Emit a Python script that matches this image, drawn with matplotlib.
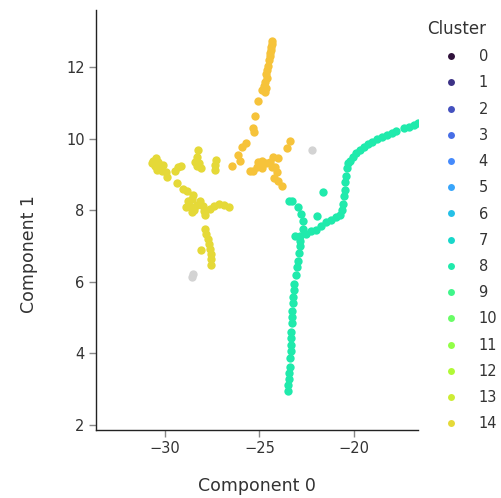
import numpy as np
import matplotlib
matplotlib.use("Agg")
import matplotlib.pyplot as plt
from matplotlib.lines import Line2D

plt.rcParams['font.family'] = ['DejaVu Sans']

# Embedding coordinates per cluster (component 0, component 1)
cluster8_x = [-23.50, -23.50, -23.44, -23.44, -23.39, -23.39, -23.34, -23.34, -23.34, -23.34,
              -23.28, -23.28, -23.26, -23.23, -23.23, -23.18, -23.18, -23.07, -23.02, -22.97,
              -22.92, -22.86, -22.86, -22.86, -23.12, -22.70, -22.70, -22.81, -22.97, -23.28,
              -23.44, -22.55, -22.28, -22.02, -21.76, -21.49, -21.23, -20.97, -20.75, -20.65,
              -20.60, -20.54, -20.49, -20.49, -20.44, -20.38, -20.33, -20.23, -20.07, -19.91,
              -19.70, -19.49, -19.28, -19.06, -18.80, -18.54, -18.27, -18.01, -17.80, -17.38,
              -17.11, -16.85, -16.64, -21.65, -21.97]
cluster8_y = [2.95, 3.12, 3.29, 3.46, 3.62, 3.88, 4.07, 4.24, 4.44, 4.61,
              4.86, 5.03, 5.19, 5.42, 5.59, 5.78, 5.95, 6.20, 6.43, 6.59,
              6.82, 7.01, 7.15, 7.27, 7.29, 7.49, 7.71, 7.91, 8.08, 8.25,
              8.27, 7.35, 7.41, 7.46, 7.55, 7.66, 7.74, 7.80, 7.88, 8.02,
              8.19, 8.39, 8.58, 8.78, 8.97, 9.17, 9.31, 9.39, 9.48, 9.59,
              9.68, 9.76, 9.84, 9.90, 9.98, 10.04, 10.10, 10.15, 10.21, 10.29,
              10.32, 10.38, 10.43, 8.50, 7.85]

cluster14_x = [-30.62, -30.46, -30.35, -30.51, -30.25, -30.09, -30.41, -30.14, -29.93, -29.88,
               -30.67, -29.46, -29.30, -29.14, -28.24, -28.30, -28.40, -28.30, -28.08, -28.19,
               -27.29, -27.35, -27.35, -29.35, -29.04, -28.83, -28.51, -28.77, -28.56, -28.67,
               -28.88, -28.46, -28.56, -28.30, -28.14, -27.98, -27.93, -27.87, -27.61, -27.40,
               -27.14, -26.87, -26.61, -27.87, -27.82, -27.72, -27.66, -27.61, -27.56, -27.56,
               -27.56, -28.08]
cluster14_y = [9.39, 9.45, 9.34, 9.25, 9.23, 9.28, 9.14, 9.11, 9.06, 8.92,
               9.31, 9.11, 9.20, 9.25, 9.68, 9.48, 9.34, 9.23, 9.17, 9.31,
               9.42, 9.28, 9.14, 8.75, 8.61, 8.53, 8.44, 8.27, 8.33, 8.13,
               8.08, 8.02, 7.94, 8.16, 8.25, 8.13, 7.99, 7.88, 8.05, 8.11,
               8.19, 8.16, 8.08, 7.49, 7.35, 7.21, 7.07, 6.93, 6.79, 6.65,
               6.48, 6.90]

cluster15_x = [-24.34, -24.34, -24.39, -24.39, -24.45, -24.45, -24.50, -24.55, -24.60, -24.66,
               -24.60, -24.71, -24.76, -24.66, -24.87, -24.71, -25.08, -25.24, -25.34, -25.29,
               -25.71, -25.92, -26.13, -26.03, -26.45, -25.50, -25.34, -25.13, -25.08, -24.87,
               -24.87, -24.66, -24.45, -24.29, -24.02, -24.34, -24.18, -24.07, -24.23, -24.02,
               -23.81, -23.55, -23.39]
cluster15_y = [12.73, 12.64, 12.56, 12.48, 12.39, 12.31, 12.20, 12.03, 11.92, 11.80,
               11.69, 11.58, 11.47, 11.41, 11.36, 11.30, 11.05, 10.63, 10.29, 10.18,
               9.87, 9.76, 9.54, 9.39, 9.25, 9.11, 9.11, 9.20, 9.34, 9.39,
               9.17, 9.31, 9.34, 9.48, 9.45, 9.20, 9.20, 9.06, 8.89, 8.83,
               8.69, 9.73, 9.93]

noise_x = [-28.49, -28.56, -22.25]
noise_y = [6.22, 6.15, 9.69]

legend_clusters = list(range(15))
n_clusters = 24

x_ticks = [-30, -25, -20]
y_ticks = [2, 4, 6, 8, 10, 12]


def cluster_color(k):
    return plt.get_cmap('turbo')(k / (n_clusters - 1))


fig = plt.figure(figsize=(5.01, 4.98), dpi=100)
ax = fig.add_axes([0.191, 0.1365, 0.643, 0.8435])

size = 36
ax.scatter(noise_x, noise_y, s=size, color='#d3d3d3', linewidths=0)
ax.scatter(cluster8_x, cluster8_y, s=size, color=cluster_color(8), linewidths=0)
ax.scatter(cluster14_x, cluster14_y, s=size, color=cluster_color(14), linewidths=0)
ax.scatter(cluster15_x, cluster15_y, s=size, color=cluster_color(15), linewidths=0)

ax.set_xlim(-33.64, -16.64)
ax.set_ylim(1.86, 13.6)
ax.set_xticks(x_ticks)
ax.set_yticks(y_ticks)
ax.set_xticklabels([f"\u2212{abs(v)}" for v in x_ticks])

for s in ('top', 'right'):
    ax.spines[s].set_visible(False)
for s in ('left', 'bottom'):
    ax.spines[s].set_color('#222222')
    ax.spines[s].set_linewidth(1.0)
ax.tick_params(axis='both', length=5, width=1, color='#888888',
               labelsize=10.5, labelcolor='#333333', pad=3)

ax.set_xlabel('Component 0', fontsize=12.5, color='#333333')
ax.set_ylabel('Component 1', fontsize=12.5, color='#333333')
ax.xaxis.set_label_coords(0.5, -0.113)
ax.yaxis.set_label_coords(-0.18, 0.42)

handles = [Line2D([0], [0], marker='o', linestyle='none', markersize=5,
                  markerfacecolor=cluster_color(k), markeredgewidth=0)
           for k in legend_clusters]
leg = fig.legend(handles, [str(k) for k in legend_clusters], title='Cluster',
                 loc='upper left', bbox_to_anchor=(0.852, 0.96), frameon=False,
                 fontsize=10.5, title_fontsize=12, labelspacing=0.77,
                 handletextpad=0.25, handlelength=3.3, borderpad=0,
                 borderaxespad=0, alignment='left')
for t in leg.get_texts():
    t.set_color('#333333')
leg.get_title().set_color('#333333')

fig.savefig('out.png', dpi=100)
